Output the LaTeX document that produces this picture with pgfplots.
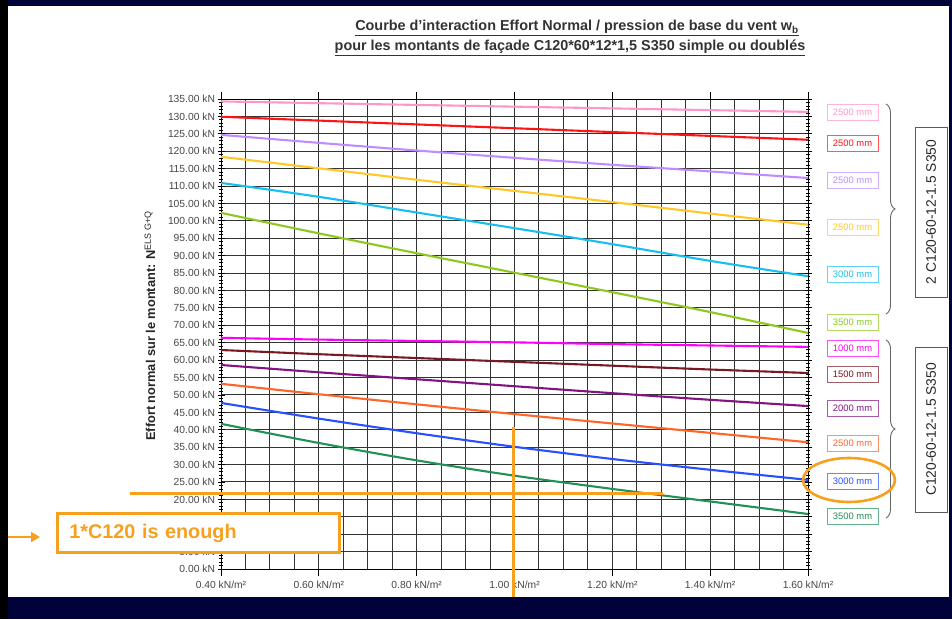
\documentclass[border=0pt]{standalone}
\usepackage{fontspec}
\setmainfont{Liberation Sans}
\usepackage{pgfplots}
\pgfplotsset{compat=1.18}
\usetikzlibrary{decorations.pathreplacing,arrows.meta}
\definecolor{navy}{RGB}{2,2,58}
\definecolor{cpink}{RGB}{255,150,200}
\definecolor{cred}{RGB}{255,20,20}
\definecolor{clav}{RGB}{190,140,255}
\definecolor{cyel}{RGB}{255,200,40}
\definecolor{ccyan}{RGB}{25,190,240}
\definecolor{cygreen}{RGB}{140,200,30}
\definecolor{cmag}{RGB}{255,0,255}
\definecolor{cmaroon}{RGB}{120,25,35}
\definecolor{cpurple}{RGB}{130,20,130}
\definecolor{corange}{RGB}{255,100,40}
\definecolor{cblue}{RGB}{40,80,255}
\definecolor{cgreen}{RGB}{35,145,85}
\definecolor{annot}{RGB}{247,160,30}
\begin{document}
\begin{tikzpicture}[x=1pt,y=1pt]
\useasboundingbox (0,0) rectangle (952,619);
\fill[white] (0,0) rectangle (952,619);
\begin{axis}[
  at={(221pt,50pt)}, anchor=south west,
  scale only axis, width=587pt, height=470pt,
  xmin=0.4, xmax=1.6, ymin=0, ymax=135,
  clip=false,
  xtick={0.4,0.6,0.8,1.0,1.2,1.4,1.6},
  minor x tick num=3,
  ytick={0,5,10,15,20,25,30,35,40,45,50,55,60,65,70,75,80,85,90,95,100,105,110,115,120,125,130,135},
  yticklabels={0.00 kN,5.00 kN,,,20.00 kN,25.00 kN,30.00 kN,35.00 kN,40.00 kN,45.00 kN,50.00 kN,55.00 kN,60.00 kN,65.00 kN,70.00 kN,75.00 kN,80.00 kN,85.00 kN,90.00 kN,95.00 kN,100.00 kN,105.00 kN,110.00 kN,115.00 kN,120.00 kN,125.00 kN,130.00 kN,135.00 kN},
  minor y tick num=4,
  xmajorgrids, xminorgrids, ymajorgrids,
  major grid style={black!80, line width=0.95pt},
  minor grid style={black!80, line width=0.95pt},
  axis line style={black, line width=0.9pt},
  x tick style={black, line width=0.8pt},
  y tick style={black, line width=0.8pt},
  xtick align=outside, ytick align=center,
  major tick length=7pt, minor tick length=3.5pt,
  minor x tick style={draw=none},
  /pgf/number format/assume math mode=true,
  xticklabel={\pgfmathprintnumber[fixed,fixed zerofill,precision=2]{\tick}~kN/m²},
  ticklabel style={font=\fontsize{10.3}{12}\selectfont, text=black!72},
  yticklabel style={xshift=1pt},
  xticklabel style={yshift=-1pt},
  every axis plot/.append style={line width=2.1pt, no markers, smooth},
]
% two C120 (doubled)
\addplot[cpink] coordinates {(0.4,134.3)(0.6,133.8)(0.8,133.3)(1.0,132.8)(1.2,132.3)(1.4,131.8)(1.6,131.3)};
\addplot[cred] coordinates {(0.4,129.9)(0.6,128.8)(0.8,127.7)(1.0,126.6)(1.2,125.5)(1.4,124.4)(1.6,123.3)};
\addplot[clav] coordinates {(0.4,124.7)(0.6,122.4)(0.8,120.2)(1.0,118.1)(1.2,116.1)(1.4,114.2)(1.6,112.3)};
\addplot[cyel] coordinates {(0.4,118.4)(0.6,115.1)(0.8,111.8)(1.0,108.6)(1.2,105.4)(1.4,102.1)(1.6,98.9)};
\addplot[ccyan] coordinates {(0.4,110.9)(0.6,106.9)(0.8,102.4)(1.0,97.9)(1.2,93.3)(1.4,88.5)(1.6,84.1)};
\addplot[cygreen] coordinates {(0.4,102.3)(0.6,96.4)(0.8,90.7)(1.0,85.1)(1.2,79.5)(1.4,73.8)(1.6,67.8)};
% single C120
\addplot[cmag] coordinates {(0.4,66.4)(0.6,65.9)(0.8,65.5)(1.0,65.1)(1.2,64.6)(1.4,64.2)(1.6,63.8)};
\addplot[cmaroon] coordinates {(0.4,62.9)(0.6,61.7)(0.8,60.6)(1.0,59.5)(1.2,58.4)(1.4,57.3)(1.6,56.3)};
\addplot[cpurple] coordinates {(0.4,58.6)(0.6,56.5)(0.8,54.5)(1.0,52.5)(1.2,50.5)(1.4,48.6)(1.6,46.8)};
\addplot[corange] coordinates {(0.4,53.2)(0.6,50.2)(0.8,47.3)(1.0,44.5)(1.2,41.8)(1.4,39.1)(1.6,36.4)};
\addplot[cblue] coordinates {(0.4,47.7)(0.6,43.2)(0.8,39.0)(1.0,35.1)(1.2,31.6)(1.4,28.5)(1.6,25.6)};
\addplot[cgreen] coordinates {(0.4,41.7)(0.6,36.2)(0.8,31.2)(1.0,26.8)(1.2,23.0)(1.4,19.4)(1.6,15.8)};
% annotation lines
\addplot[annot, line width=2.6pt, sharp plot] coordinates {(0.214,21.7)(1.303,21.7)};
\addplot[annot, line width=2.6pt, sharp plot] coordinates {(0.998,40.9)(0.998,-8.2)};
\end{axis}
% title
\node[font=\bfseries\fontsize{14.4}{17}\selectfont, text=black!80] at (577,591) {\underline{Courbe d'interaction Effort Normal / pression de base du vent w\textsubscript{b}}};
\node[font=\bfseries\fontsize{14.4}{17}\selectfont, text=black!80] at (570,571) {\underline{pour les montants de façade C120*60*12*1,5 S350 simple ou doublés}};
% y label
\node[rotate=90, font=\bfseries\fontsize{12.8}{15}\selectfont, text=black!85] at (150,293) {Effort normal sur le montant: N\textsuperscript{\mdseries ELS G+Q}};
% series labels
\foreach \c/\t/\y in {cpink/2500 mm/112, cred/2500 mm/143, clav/2500 mm/180, cyel/2500 mm/227, ccyan/3000 mm/274, cygreen/3500 mm/322, cmag/1000 mm/348, cmaroon/1500 mm/374, cpurple/2000 mm/408, corange/2500 mm/443, cblue/3000 mm/481, cgreen/3500 mm/516}{
  \node[draw=\c!70, line width=0.8pt, text=\c, font=\fontsize{9.4}{10}\selectfont, minimum width=51pt, minimum height=16pt, inner sep=1pt] at (852.5,619-\y) {\t};
}
% braces
\draw[decorate, decoration={brace, amplitude=9pt}, black!60, line width=0.9pt] (886,619-104) -- (886,619-314);
\draw[decorate, decoration={brace, amplitude=9pt}, black!60, line width=0.9pt] (886,619-340) -- (886,619-518);
% group boxes
\node[draw=black!65, line width=0.9pt, rotate=90, minimum width=170pt, minimum height=32pt, font=\fontsize{13.8}{15}\selectfont, text=black!85] at (931,619-212) {2 C120-60-12-1.5 S350};
\node[draw=black!65, line width=0.9pt, rotate=90, minimum width=165pt, minimum height=32pt, font=\fontsize{13.8}{15}\selectfont, text=black!85] at (931,619-429.5) {C120-60-12-1.5 S350};
% ellipse
\draw[annot, line width=2.6pt] (849,619-480) ellipse [x radius=46, y radius=22];
% callout box
\node[draw=annot, fill=white, line width=2.8pt, minimum width=282pt, minimum height=39pt, anchor=west, inner xsep=12pt, text=annot, font=\bfseries\fontsize{19.8}{22}\selectfont, align=left, text width=258pt] at (56,619-533) {1*C120 is enough};
\draw[annot, line width=2.6pt, -{Triangle[length=9pt,width=10pt]}] (6,619-537) -- (40,619-537);
% frame
\fill[navy] (0,0) rectangle (952,22);
\fill[navy] (0,613) rectangle (952,619);
\fill[black] (0,0) rectangle (8,619);
\fill[navy] (949,0) rectangle (952,619);
\end{tikzpicture}
\end{document}
